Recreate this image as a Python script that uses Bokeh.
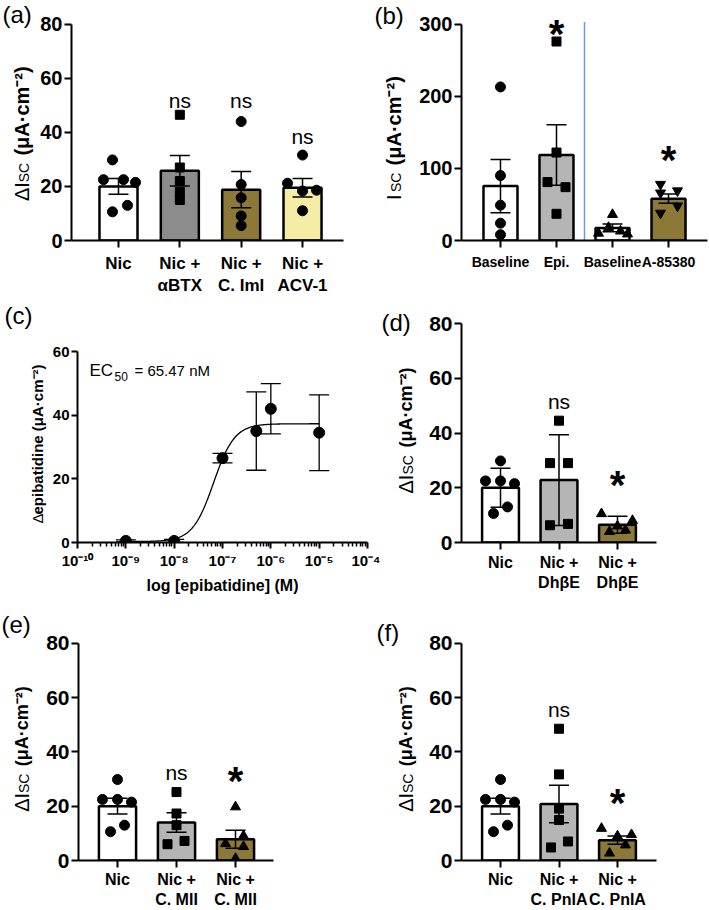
import numpy as np
from bokeh.plotting import figure
from bokeh.models import Range1d, FixedTicker, Label, Whisker, TeeHead, ColumnDataSource
from bokeh.layouts import column, row
from bokeh.core.properties import value
from bokeh.embed import file_html
from bokeh.resources import INLINE

FONT = "Liberation Sans"

# ---------------- data ----------------
# (a)
a_labels = ["Nic", "Nic +\nαBTX", "Nic +\nC. ImI", "Nic +\nACV-1"]
a_means = [20.0, 25.8, 18.8, 19.5]
a_sem = [2.9, 5.6, 6.7, 3.4]
a_nic = [29.8, 22.5, 22.5, 21.5, 10.6, 13.0]
a_abtx = [46.5, 27.0, 22.0, 18.0, 15.0]
a_cimi = [44.0, 20.7, 15.8, 9.1, 5.5]
a_acv1 = [31.6, 21.2, 18.3, 18.6, 11.0]
a_colors = ["#ffffff", "#8c8c8c", "#8c7837", "#f5eda5"]

# (b)
b_labels = ["Baseline", "Epi.", "Baseline", "A-85380"]
b_means = [75.5, 118.5, 17.5, 58.0]
b_sem = [37.0, 42.0, 5.5, 6.5]
b_base1 = [213.0, 90.0, 49.0, 24.0, 8.0]
b_epi = [276.0, 122.0, 81.0, 74.0, 37.0]
b_base2 = [36.0, 10.0, 18.0, 13.0, 9.0]
b_a85380 = [78.0, 66.0, 69.0, 38.0, 48.0]
b_colors = ["#ffffff", "#b5b5b5", "#ffffff", "#8c7837"]
b_divider_x, b_divider_top = 1.5, 303

# (c)
c_conc = [1e-9, 1e-8, 1e-7, 5e-7, 1e-6, 1e-5]
c_resp = [0.5, 0.5, 26.5, 35.0, 42.0, 34.5]
c_err = [0.3, 0.5, 1.5, 12.3, 7.9, 11.9]
c_bottom, c_top, c_ec50, c_hill = 0.3, 37.3, 65.47e-9, 2.0
c_xticks = [1e-10, 1e-9, 1e-8, 1e-7, 1e-6, 1e-5, 1e-4]
c_xtick_labels = ["10⁻¹⁰", "10⁻⁹", "10⁻⁸", "10⁻⁷", "10⁻⁶", "10⁻⁵", "10⁻⁴"]

# (d)
d_labels = ["Nic", "Nic +\nDhβE", "Nic +\nDhβE"]
d_means = [20.0, 22.8, 6.5]
d_sd = [7.1, 16.6, 3.1]
d_nic = [29.8, 22.5, 22.5, 21.5, 10.6, 13.0]
d_dhbe = [44.5, 29.0, 29.0, 6.3, 6.8]
d_dhbe2 = [10.5, 8.0, 6.0, 4.0, 4.5]

# (e)
e_labels = ["Nic", "Nic +\nC. MII", "Nic +\nC. MII"]
e_means = [20.0, 14.0, 7.8]
e_sem = [2.9, 3.6, 3.3]
e_nic = [29.8, 22.5, 22.5, 21.5, 10.6, 13.0]
e_cmii = [25.2, 17.3, 13.0, 6.0, 7.2]
e_cmii2 = [19.7, 9.1, 6.2, 5.1, 0.7]

# (f)
f_labels = ["Nic", "Nic +\nC. PnIA", "Nic +\nC. PnIA"]
f_means = [20.0, 20.8, 7.5]
f_sem = [2.9, 6.9, 1.5]
f_nic = [29.8, 22.5, 22.5, 21.5, 10.6, 13.0]
f_pnia = [48.5, 31.7, 19.1, 14.9, 7.0, 4.8]
f_pnia2 = [11.8, 9.0, 9.5, 5.7, 2.7]

tri_colors = ["#ffffff", "#b5b5b5", "#8c7837"]

# horizontal scatter of the dots (pixels from bar centre) -- layout only
JIT_NIC = [0, -15, 0, 14, -7, 7]
JIT_NIC_A = [-6, -15, 5, 17, -6, 9]
UNIT = "(μA·cm⁻²)"


# ---------------- helpers ----------------
def base_fig(w, h, L, R, T, B, xr, yr, x_log=False):
    kw = dict(width=w, height=h, x_range=xr, y_range=yr, output_backend="svg",
              toolbar_location=None, min_border_left=L, min_border_right=R,
              min_border_top=T, min_border_bottom=B)
    if x_log:
        kw["x_axis_type"] = "log"
    p = figure(**kw)
    p.grid.visible = False
    p.outline_line_color = None
    p.background_fill_color = "white"
    p.border_fill_color = "white"
    for ax in (p.xaxis[0], p.yaxis[0]):
        ax.axis_line_color = "black"
        ax.axis_line_width = 2
        ax.major_tick_line_color = "black"
        ax.major_tick_line_width = 2
        ax.major_tick_in = 0
        ax.major_tick_out = 7
        ax.minor_tick_in = 0
        ax.minor_tick_out = 0
        ax.major_label_text_font = FONT
        ax.major_label_text_font_style = "bold"
        ax.major_label_text_color = "black"
    return p


def range_end(ymax, row_top, frame_bottom, ymax_page):
    # frames start at the row's top; the y axis itself is bounded to [0, ymax]
    return ymax * (frame_bottom - row_top) / (frame_bottom - ymax_page)


def lab(p, x, y, s, size, bold=False, xo=0, yo=0, align="left", baseline="middle"):
    p.add_layout(Label(x=x, y=y, x_offset=xo, y_offset=yo, text=s, text_font=FONT,
                       text_font_size=f"{size}px",
                       text_font_style="bold" if bold else "normal",
                       text_color="black", text_align=align, text_baseline=baseline))


def title_fig(w, h, x0, y0, B, items):
    """Narrow strip (no axes) holding the panel letter and the rotated y title.
    items: (page_x, page_y, text, size, bold, rotated)
    rotated texts: page_x is the text baseline, page_y where the text starts."""
    fh = h - B
    p = figure(width=w, height=h, x_range=Range1d(0, w), y_range=Range1d(0, fh),
               output_backend="svg", toolbar_location=None,
               min_border_left=0, min_border_right=0, min_border_top=0, min_border_bottom=B,
               x_axis_location=None, y_axis_location=None)
    p.grid.visible = False
    p.outline_line_color = None
    p.background_fill_color = "white"
    p.border_fill_color = "white"
    for px, py, s, size, bold, rot in items:
        cx = px - 0.35 * size if rot else px
        p.text(x=[cx - x0], y=[y0 + fh - py], text=[s], angle=np.pi / 2 if rot else 0.0,
               text_font=value(FONT), text_font_size=value(f"{size}px"),
               text_font_style="bold" if bold else "normal", text_color="black",
               text_align="left", text_baseline="middle")
    return p


def isc_items(bx, y_pre, y_sub, y_unit, prefix, unit_size):
    return [(bx, y_pre, prefix, 20, False, True),
            (bx, y_sub, "SC", 14, False, True),
            (bx, y_unit, UNIT, unit_size, True, True)]


def bar_panel(w, h, L, R, B, xr, ymax, yr_end, yticks, labels, means, errs, groups, colors,
              bar_w, spacing, tick_font, cat_font, cat_standoff):
    p = base_fig(w, h, L, R, 0, B, Range1d(*xr), Range1d(0, yr_end))
    p.yaxis.bounds = (0, ymax)
    xs = list(range(len(means)))
    p.vbar(x=xs, top=means, bottom=0, width=bar_w, fill_color=colors,
           line_color="black", line_width=2.5)
    for i, (vals, jit, marker, size) in enumerate(groups):
        p.scatter(x=[i + j / spacing for j in jit], y=vals, marker=marker, size=size,
                  fill_color="black", line_color="black")
    src = ColumnDataSource(dict(base=xs,
                                lower=[m - e for m, e in zip(means, errs)],
                                upper=[m + e for m, e in zip(means, errs)]))
    wh = Whisker(source=src, base="base", lower="lower", upper="upper",
                 line_color="black", line_width=1.5, level="overlay",
                 upper_head=TeeHead(size=20, line_width=1.5, line_color="black"),
                 lower_head=TeeHead(size=20, line_width=1.5, line_color="black"))
    p.add_layout(wh)
    p.xaxis.ticker = FixedTicker(ticks=xs)
    p.xaxis.major_label_overrides = {i: t for i, t in enumerate(labels)}
    p.xaxis.major_label_text_font_size = f"{cat_font}px"
    p.xaxis.major_label_standoff = cat_standoff
    p.yaxis.ticker = FixedTicker(ticks=yticks)
    p.yaxis.major_label_text_font_size = f"{tick_font}px"
    p.yaxis.major_label_standoff = 2
    return p


def star(p, x, y):
    lab(p, x, y, "*", 40, True, 0, -9, "center", "middle")


def ns(p, x, y):
    lab(p, x, y, "ns", 21, False, 0, 0, "center", "alphabetic")


# ================= row 1 (page y 0..298) =================
R1, H1, FB1 = 0, 298, 243
B1 = R1 + H1 - FB1
ta = title_fig(36, H1, 0, R1, B1,
               [(2, 14, "(a)", 24, False, False)] +
               isc_items(28, 203, 184, 157, "ΔI", 20))
a_xr = (-0.766, 3.668)
pa = bar_panel(318, H1, 35, 11, B1, a_xr, 80, range_end(80, R1, FB1, 24), [0, 20, 40, 60, 80],
               a_labels, a_means, a_sem,
               [(a_nic, JIT_NIC_A, "circle", 10),
                (a_abtx, [0, 0, 0, 0, 0], "square", 9),
                (a_cimi, [0, 0, 0, 0, 0], "circle", 10),
                (a_acv1, [0, -15, 0, 14, 0], "circle", 10)],
               a_colors, 0.62, 61.33, 20, 17, 6)
ns(pa, 1, 51.7)
ns(pa, 2, 51.7)
ns(pa, 3, 38.3)

tb = title_fig(58, H1, 354, R1, B1,
               [(374, 15, "(b)", 24, False, False)] +
               isc_items(400, 202, 194, 167, "I", 20))
b_xr = (-0.696, 3.696)
pb = bar_panel(297, H1, 49, 2, B1, b_xr, 300, range_end(300, R1, FB1, 24), [0, 100, 200, 300],
               b_labels, b_means, b_sem,
               [(b_base1, [0, 0, 0, 0, 0], "circle", 10),
                (b_epi, [0, 0, -9, 9, 0], "square", 9),
                (b_base2, [0, -14, -4, 8, 15], "triangle", 10),
                (b_a85380, [-8, -8, 9, -8, 9], "inverted_triangle", 10)],
               b_colors, 0.607, 56.0, 20, 14, 6)
pb.segment(x0=[b_divider_x], y0=[0], x1=[b_divider_x], y1=[b_divider_top],
           line_color="#6f9bd8", line_width=1.5)
star(pb, 1, 298.6)
star(pb, 3, 124.7)

# ================= row 2 (page y 298..600) =================
R2, H2, FB2 = 298, 302, 542
B2 = R2 + H2 - FB2
tc = title_fig(48, H2, 0, R2, B2,
               [(4, 315, "(c)", 24, False, False),
                (42, 523, "Δ", 15, False, True),
                (42, 514, "epibatidine " + UNIT, 15, True, True)])
pc = base_fig(332, H2, 29, 13, 0, B2, Range1d(1e-10, 1e-4),
              Range1d(0, range_end(60, R2, FB2, 351)), x_log=True)
pc.yaxis.bounds = (0, 60)
cx = np.logspace(-9, -5, 300)
cy = c_bottom + (c_top - c_bottom) / (1 + (c_ec50 / cx) ** c_hill)
pc.line(x=cx, y=cy, line_color="black", line_width=1.3)
pc.scatter(x=c_conc, y=c_resp, marker="circle", size=11, fill_color="black", line_color="black")
csrc = ColumnDataSource(dict(base=c_conc,
                             lower=[r - e for r, e in zip(c_resp, c_err)],
                             upper=[r + e for r, e in zip(c_resp, c_err)]))
pc.add_layout(Whisker(source=csrc, base="base", lower="lower", upper="upper",
                      line_color="black", line_width=1.3, level="overlay",
                      upper_head=TeeHead(size=20, line_width=1.3, line_color="black"),
                      lower_head=TeeHead(size=20, line_width=1.3, line_color="black")))
c_minor = [k * t for t in c_xticks[:-1] for k in range(2, 10)]
pc.xaxis.ticker = FixedTicker(ticks=c_xticks, minor_ticks=c_minor)
pc.xaxis.major_label_overrides = {t: s for t, s in zip(c_xticks, c_xtick_labels)}
pc.xaxis.major_tick_out = 6
pc.xaxis.minor_tick_out = 4
pc.xaxis.minor_tick_line_width = 1.5
pc.xaxis.minor_tick_line_color = "black"
pc.xaxis.major_label_text_font_size = "15px"
pc.xaxis.major_label_standoff = 3
pc.xaxis.axis_label = "log [epibatidine] (M)"
pc.xaxis.axis_label_text_font = FONT
pc.xaxis.axis_label_text_font_size = "16px"
pc.xaxis.axis_label_text_font_style = "bold"
pc.xaxis.axis_label_text_color = "black"
pc.xaxis.axis_label_standoff = 5
pc.yaxis.ticker = FixedTicker(ticks=[0, 20, 40, 60])
pc.yaxis.major_label_text_font_size = "15px"
pc.yaxis.major_tick_out = 6
pc.yaxis.major_label_standoff = 2
lab(pc, 1e-10, 60, "EC", 17, False, 12, -19, "left", "alphabetic")
lab(pc, 1e-10, 60, "50", 12, False, 37, -25, "left", "alphabetic")
lab(pc, 1e-10, 60, "= 65.47 nM", 15, False, 57, -19, "left", "alphabetic")

td = title_fig(38, H2, 380, R2, B2,
               [(381, 322, "(d)", 24, False, False)] +
               isc_items(412, 493, 474, 447, "ΔI", 18))
d_xr = (-0.667, 2.667)
pd_ = bar_panel(291, H2, 43, 53, B2, d_xr, 80, range_end(80, R2, FB2, 323), [0, 20, 40, 60, 80],
                d_labels, d_means, d_sd,
                [(d_nic, JIT_NIC, "circle", 10),
                 (d_dhbe, [0, -9, 9, -9, 9], "square", 9),
                 (d_dhbe2, [-16, 15, 0, -8, 8], "triangle", 10)],
                tri_colors, 0.63, 58.5, 21, 16, 4)
ns(pd_, 1, 51.4)
star(pd_, 2, 24.3)

# ================= row 3 (page y 600..910) =================
R3, H3, FB3 = 600, 310, 862
B3 = R3 + H3 - FB3
te = title_fig(36, H3, 0, R3, B3,
               [(1, 624, "(e)", 24, False, False)] +
               isc_items(28, 813, 794, 767, "ΔI", 18))
e_xr = (-0.661, 2.644)
pe = bar_panel(318, H3, 42, 81, B3, e_xr, 80, range_end(80, R3, FB3, 643), [0, 20, 40, 60, 80],
               e_labels, e_means, e_sem,
               [(e_nic, JIT_NIC, "circle", 10),
                (e_cmii, [0, 0, 0, -9, 8], "square", 9),
                (e_cmii2, [0, 8, -10, 8, 0], "triangle", 10)],
               tri_colors, 0.63, 59.0, 21, 16, 3)
ns(pe, 1, 32.5)
star(pe, 2, 32.5)

tf = title_fig(64, H3, 354, R3, B3,
               [(376, 632, "(f)", 24, False, False)] +
               isc_items(412, 813, 794, 767, "ΔI", 18))
f_xr = (-0.667, 2.667)
pf = bar_panel(291, H3, 43, 53, B3, f_xr, 80, range_end(80, R3, FB3, 643), [0, 20, 40, 60, 80],
               f_labels, f_means, f_sem,
               [(f_nic, JIT_NIC, "circle", 10),
                (f_pnia, [0, 0, 0, 0, 9, -8], "square", 9),
                (f_pnia2, [-16, 0, 14, 8, -8], "triangle", 10)],
               tri_colors, 0.63, 58.5, 21, 16, 3)
ns(pf, 1, 55.7)
star(pf, 2, 24.5)

layout = column(row(ta, pa, tb, pb), row(tc, pc, td, pd_), row(te, pe, tf, pf))
open("out.html", "w").write(file_html(layout, INLINE))
